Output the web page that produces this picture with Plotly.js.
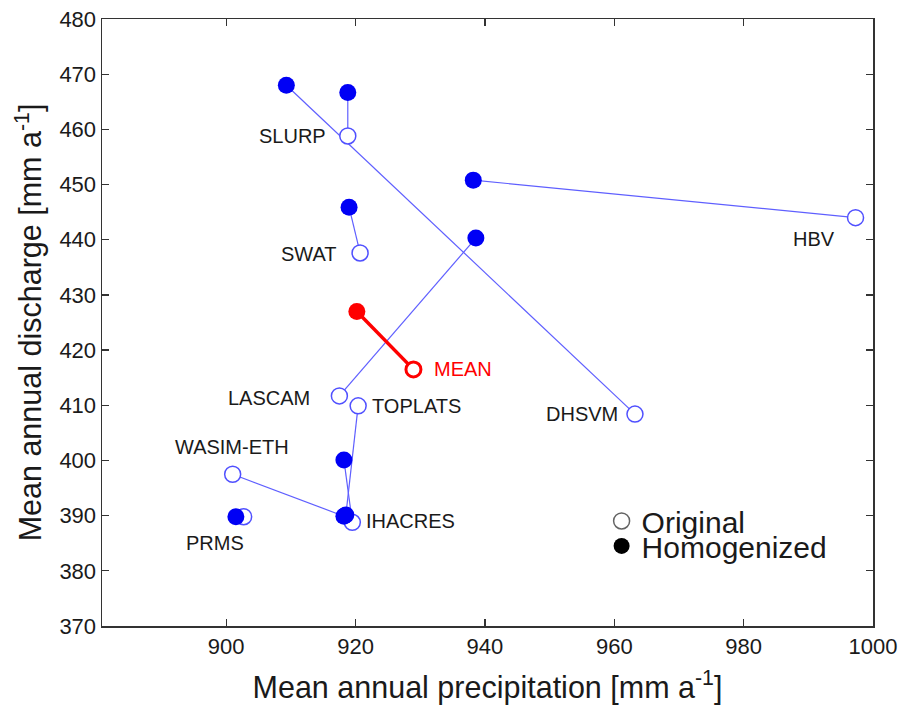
<!DOCTYPE html>
<html>
<head>
<meta charset="utf-8">
<script src="https://cdn.plot.ly/plotly-3.0.1.min.js"></script>
<style>html,body{margin:0;padding:0;background:#fff;}#chart{width:901px;height:706px;}</style>
</head>
<body>
<div id="chart"></div>
<script>
// Models (blue) and the ensemble mean (red)
const models = ["SLURP", "DHSVM", "HBV", "SWAT", "LASCAM", "TOPLATS", "WASIM-ETH", "PRMS", "IHACRES"];
// Original values
const origPrecip = [918.8, 963.2, 997.3, 920.7, 917.5, 920.4, 901.0, 902.7, 919.5];
const origDischarge = [458.8, 408.4, 444.0, 437.6, 411.7, 409.9, 397.5, 389.8, 388.8];
// Homogenized values
const homPrecip = [918.8, 909.3, 938.2, 919.0, 938.6, 918.5, 918.2, 901.5, 918.2];
const homDischarge = [466.7, 468.0, 450.8, 445.9, 440.3, 390.1, 389.9, 389.8, 400.1];

const meanLabel = "MEAN";
const meanOrig = [928.95, 416.5];
const meanHom = [920.2, 427.0];

const xTicks = [900, 920, 940, 960, 980, 1000];
const yTicks = [370, 380, 390, 400, 410, 420, 430, 440, 450, 460, 470, 480];

// label offsets in pixels (style only)
const labelStyle = {
  "SLURP":     {ax: "right",  dx: -20, dy: 0},
  "DHSVM":     {ax: "right",  dx: -15, dy: 0},
  "HBV":       {ax: "right",  dx: -19, dy: -21},
  "SWAT":      {ax: "right",  dx: -21, dy: -1},
  "LASCAM":    {ax: "right",  dx: -27, dy: -2},
  "TOPLATS":   {ax: "left",   dx: 12,  dy: 0},
  "WASIM-ETH": {ax: "center", dx: -1,  dy: 27},
  "PRMS":      {ax: "center", dx: -29, dy: -26},
  "IHACRES":   {ax: "left",   dx: 12,  dy: 1}
};

const blueLine = "rgb(95,95,255)";
const blueFill = "rgb(0,0,245)";
const FONT = "Liberation Sans, Arial, Helvetica, sans-serif";

// connecting lines
const lx = [], ly = [];
for (let i = 0; i < models.length; i++) {
  lx.push(origPrecip[i], homPrecip[i], null);
  ly.push(origDischarge[i], homDischarge[i], null);
}

const traces = [
  {x: lx, y: ly, mode: "lines", type: "scatter", line: {color: blueLine, width: 1.2},
   showlegend: false, hoverinfo: "skip"},
  {x: [meanOrig[0], meanHom[0]], y: [meanOrig[1], meanHom[1]], mode: "lines", type: "scatter",
   line: {color: "rgb(255,0,0)", width: 3.5}, showlegend: false, hoverinfo: "skip"},
  {x: origPrecip, y: origDischarge, text: models, mode: "markers", type: "scatter",
   marker: {symbol: "circle", size: 16, color: "white", line: {color: "rgb(80,80,255)", width: 1.5}},
   showlegend: false},
  {x: [meanOrig[0]], y: [meanOrig[1]], mode: "markers", type: "scatter",
   marker: {symbol: "circle", size: 15, color: "white", line: {color: "rgb(255,0,0)", width: 3}},
   showlegend: false},
  {x: homPrecip, y: homDischarge, text: models, mode: "markers", type: "scatter",
   marker: {symbol: "circle", size: 17, color: blueFill, line: {width: 0}},
   showlegend: false},
  {x: [meanHom[0]], y: [meanHom[1]], mode: "markers", type: "scatter",
   marker: {symbol: "circle", size: 17, color: "rgb(255,0,0)", line: {width: 0}},
   showlegend: false},
  // legend entries
  {x: [null], y: [null], mode: "markers", type: "scatter", name: "Original",
   marker: {symbol: "circle", size: 16, color: "white", line: {color: "rgb(100,100,100)", width: 1.5}},
   showlegend: true, legend: "legend"},
  {x: [null], y: [null], mode: "markers", type: "scatter", name: "Homogenized",
   marker: {symbol: "circle", size: 16, color: "black", line: {width: 0}},
   showlegend: true, legend: "legend2"}
];

const annotations = models.map((m, i) => ({
  x: origPrecip[i], y: origDischarge[i], xref: "x", yref: "y",
  text: m, showarrow: false,
  xanchor: labelStyle[m].ax, yanchor: "middle",
  xshift: labelStyle[m].dx, yshift: labelStyle[m].dy,
  font: {family: FONT, size: 20, color: "#1a1a1a"}
}));
annotations.push({
  x: meanOrig[0], y: meanOrig[1], xref: "x", yref: "y", text: meanLabel, showarrow: false,
  xanchor: "left", yanchor: "middle", xshift: 19, yshift: 0,
  font: {family: FONT, size: 20, color: "rgb(255,0,0)"}
});

const axisCommon = {
  showline: true, linecolor: "#333", linewidth: 1.5, mirror: "ticks",
  ticks: "inside", ticklen: 7, tickwidth: 1.2, tickcolor: "#333",
  showgrid: false, zeroline: false,
  tickfont: {family: FONT, size: 22, color: "#1a1a1a"}
};

const layout = {
  width: 901, height: 706,
  margin: {l: 102, r: 28, t: 19, b: 80},
  paper_bgcolor: "white", plot_bgcolor: "white",
  showlegend: true,
  xaxis: Object.assign({}, axisCommon, {
    range: [880.8, 1000], tickvals: xTicks, ticktext: xTicks.map(String),
    title: {text: "Mean annual precipitation [mm a<sup>-1</sup>]", font: {family: FONT, size: 30.5, color: "#1a1a1a"}, standoff: 18}
  }),
  yaxis: Object.assign({}, axisCommon, {
    range: [370, 480], tickvals: yTicks, ticktext: yTicks.map(String),
    title: {text: "Mean annual discharge [mm a<sup>-1</sup>]", font: {family: FONT, size: 30.5, color: "#1a1a1a"}, standoff: 8}
  }),
  legend: {x: 0.648, y: 0.173, xanchor: "left", yanchor: "middle", bgcolor: "rgba(0,0,0,0)",
           font: {family: FONT, size: 30, color: "#1a1a1a"}, borderwidth: 0},
  legend2: {x: 0.648, y: 0.132, xanchor: "left", yanchor: "middle", bgcolor: "rgba(0,0,0,0)",
           font: {family: FONT, size: 30, color: "#1a1a1a"}, borderwidth: 0},
  annotations: annotations
};

Plotly.newPlot("chart", traces, layout, {displayModeBar: false, staticPlot: true});
</script>
</body>
</html>
